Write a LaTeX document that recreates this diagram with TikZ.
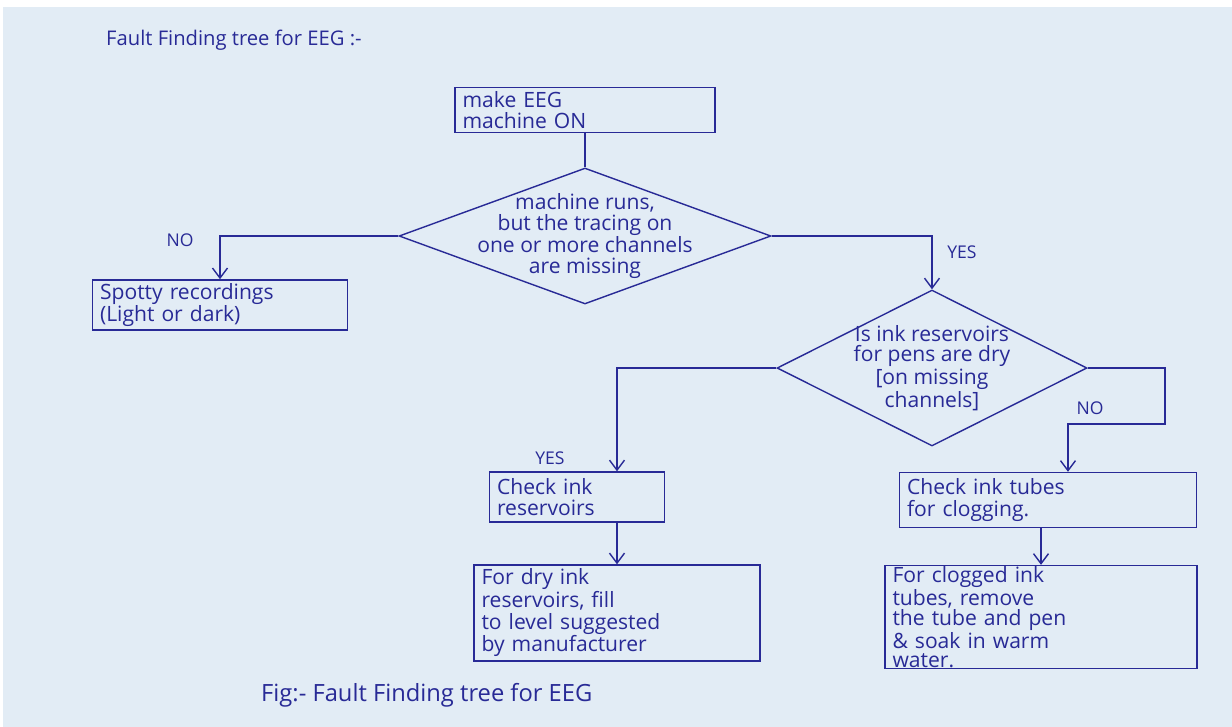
\documentclass[tikz,border=0pt]{standalone}
\usepackage{fontspec}
\setmainfont{Open Sans}
\usepackage{tikz}
\usetikzlibrary{shapes.geometric, arrows.meta, positioning, calc}
\definecolor{ink}{RGB}{40,42,150}
\definecolor{paper}{RGB}{226,236,245}

\begin{document}
\begin{tikzpicture}[
        x=0.02cm, y=-0.02cm,
        every node/.style={text=ink},
        box/.style={rectangle, draw=ink, thick, inner xsep=0.15cm, inner ysep=0.08cm, align=left, font=\fontsize{12}{12}\selectfont},
        decision/.style={diamond, draw=ink, thick, inner sep=-0.6cm, aspect=2.5, align=center, font=\fontsize{12}{11.5}\selectfont},
        arrowline/.style={-{Straight Barb[length=2mm, width=3mm]}, draw=ink, thick},
        plainline/.style={draw=ink, thick},
        answer/.style={font=\fontsize{10}{10}\selectfont}
    ]
        \fill[white] (0,0) rectangle (1232,727);
        \fill[paper] (3,7) rectangle (1232,727);
        \node[anchor=west, font=\fontsize{11.5}{11.5}\selectfont] (title) at (100,40) {Fault Finding tree for EEG :-};
        \node[box, text width=4.9cm, minimum height=0.76cm] (start) at (585,110) {make EEG\\machine ON};
        \node[decision, minimum width=7.44cm, minimum height=2.72cm] (runs) at (585,236) {machine runs,\\but the tracing on\\one or more channels\\are missing};
        \node[box, text width=4.8cm, minimum height=1.0cm] (spotty) at (220,305) {Spotty recordings\\(Light or dark)};
        \node[decision, minimum width=6.2cm, minimum height=3.12cm] (dry) at (932,368) {Is ink reservoirs\\for pens are dry\\{[}on missing\\channels{]}};
        \node[box, text width=3.2cm, minimum height=1.0cm] (chkres) at (577,497) {Check ink\\reservoirs};
        \node[box, text width=5.64cm, minimum height=1.1cm] (chktube) at (1048,500) {Check ink tubes\\for clogging.};
        \node[box, text width=5.42cm, minimum height=1.8cm] (refill) at (617,613) {For dry ink\\reservoirs, fill\\to level suggested\\by manufacturer};
        \node[box, text width=5.94cm, minimum height=1.8cm, font=\fontsize{12}{10.5}\selectfont, inner ysep=0.02cm] (soak) at (1041,617) {For clogged ink\\tubes, remove\\the tube and pen\\\& soak in warm\\water.};
        \node[anchor=west, font=\fontsize{13.5}{13.5}\selectfont] (caption) at (255,695) {Fig:- Fault Finding tree for EEG};
        % answers
        \node[answer] (no1) at (180,240) {NO};
        \node[answer] (yes1) at (962,252) {YES};
        \node[answer] (yes2) at (550,458) {YES};
        \node[answer] (no2) at (1090,408) {NO};
        \coordinate (nobend) at (1165,424);
        \draw[plainline] (start) -- (runs);
        \draw[arrowline] (runs.west) -| (spotty.north);
        \draw[arrowline] (runs.east) -| (dry.north);
        \draw[arrowline] (dry.west) -| (refill.north |- chkres.north);
        \draw[arrowline] (dry.east) -| (nobend) -| ([xshift=0.4cm]chktube.north);
        \draw[arrowline] (chkres.south -| refill.north) -- (refill.north);
        \draw[arrowline] (chktube.south -| soak.north) -- (soak.north);
    \end{tikzpicture}
\end{document}
